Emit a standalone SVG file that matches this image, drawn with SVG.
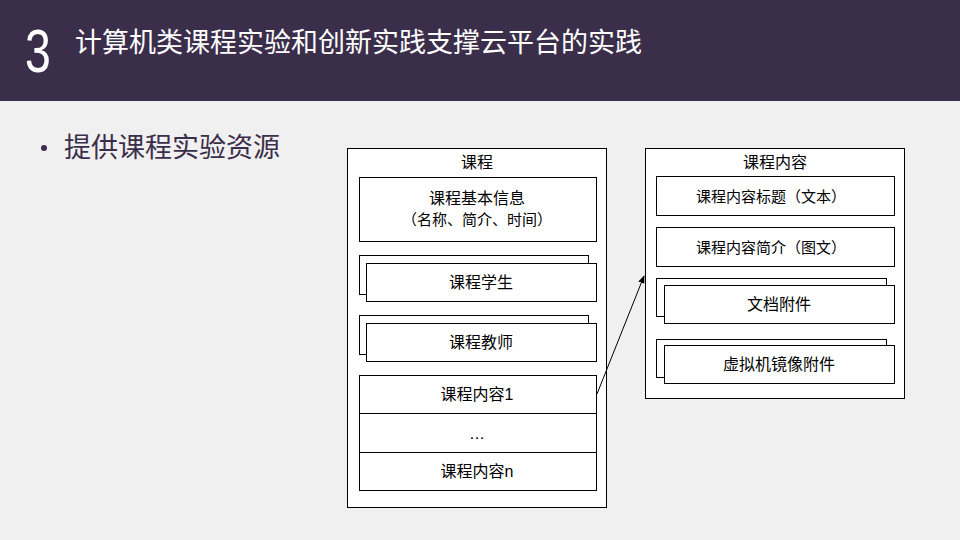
<svg xmlns="http://www.w3.org/2000/svg" width="960" height="540" viewBox="0 0 960 540">
<defs>
<style>
.box{fill:#ffffff;stroke:#000000;stroke-width:1}
.t{font-family:"Liberation Sans","Noto Sans CJK SC",sans-serif;font-size:16px;fill:#000000;text-anchor:middle;dominant-baseline:central}
.s{font-size:15px}
.conn{stroke:#000000;stroke-width:1;fill:none}
</style>
<marker id="arr" viewBox="0 0 10 10" refX="9" refY="5" markerWidth="8" markerHeight="8" orient="auto" markerUnits="userSpaceOnUse">
<path d="M0,1 L10,5 L0,9 z" fill="#000000"/>
</marker>
</defs>
<rect x="0" y="0" width="960" height="540" fill="#f0f0f0"/>
<rect x="0" y="0" width="960" height="101" fill="#3b2e4a"/>
<text transform="translate(25,72) scale(0.76,1)" x="0" y="0" font-family="'Liberation Sans','Noto Sans CJK SC',sans-serif" font-size="61" fill="#ffffff">3</text>
<text x="75" y="52" font-family="'Noto Sans CJK SC',sans-serif" font-size="27" fill="#ffffff">计算机类课程实验和创新实践支撑云平台的实践</text>
<circle cx="44" cy="148" r="3" fill="#3b2e4a"/>
<text x="64" y="157" font-family="'Noto Sans CJK SC',sans-serif" font-size="27" fill="#3b2e4a">提供课程实验资源</text>

<g id="course">
<rect class="box" x="347.5" y="148.5" width="259" height="359"/>
<text class="t" x="477" y="162">课程</text>
</g>
<g id="basic-info">
<rect class="box" x="359.5" y="177.5" width="237" height="64"/>
<text class="t" x="477" y="198">课程基本信息</text>
<text class="t s" x="477" y="219">（名称、简介、时间）</text>
</g>
<g id="students">
<rect class="box" x="359.5" y="255.5" width="229" height="39"/>
<rect class="box" x="366.5" y="263.5" width="230" height="38"/>
<text class="t" x="481" y="282">课程学生</text>
</g>
<g id="teachers">
<rect class="box" x="359.5" y="315.5" width="229" height="39"/>
<rect class="box" x="366.5" y="323.5" width="230" height="38"/>
<text class="t" x="481" y="342">课程教师</text>
</g>
<g id="content1">
<rect class="box" x="359.5" y="375.5" width="237" height="38"/>
<text class="t" x="477" y="394">课程内容1</text>
</g>
<g id="content-dots">
<rect class="box" x="359.5" y="413.5" width="237" height="39"/>
<text class="t" x="477" y="433">…</text>
</g>
<g id="contentn">
<rect class="box" x="359.5" y="452.5" width="237" height="38"/>
<text class="t" x="477" y="471">课程内容n</text>
</g>

<g id="course-content">
<rect class="box" x="645.5" y="148.5" width="259" height="250"/>
<text class="t" x="775" y="162">课程内容</text>
</g>
<g id="content-title">
<rect class="box" x="656.5" y="176.5" width="238" height="39"/>
<text class="t s" x="771" y="196">课程内容标题（文本）</text>
</g>
<g id="content-intro">
<rect class="box" x="656.5" y="227.5" width="238" height="39"/>
<text class="t s" x="771" y="247">课程内容简介（图文）</text>
</g>
<g id="doc-attach">
<rect class="box" x="656.5" y="278.5" width="230" height="38"/>
<rect class="box" x="664.5" y="285.5" width="230" height="38"/>
<text class="t" x="779" y="304">文档附件</text>
</g>
<g id="vm-attach">
<rect class="box" x="656.5" y="339.5" width="230" height="38"/>
<rect class="box" x="664.5" y="345.5" width="230" height="38"/>
<text class="t" x="779" y="364">虚拟机镜像附件</text>
</g>

<g id="connectors">
<line class="conn" x1="597" y1="394" x2="644" y2="276" marker-end="url(#arr)"/>
</g>
</svg>
